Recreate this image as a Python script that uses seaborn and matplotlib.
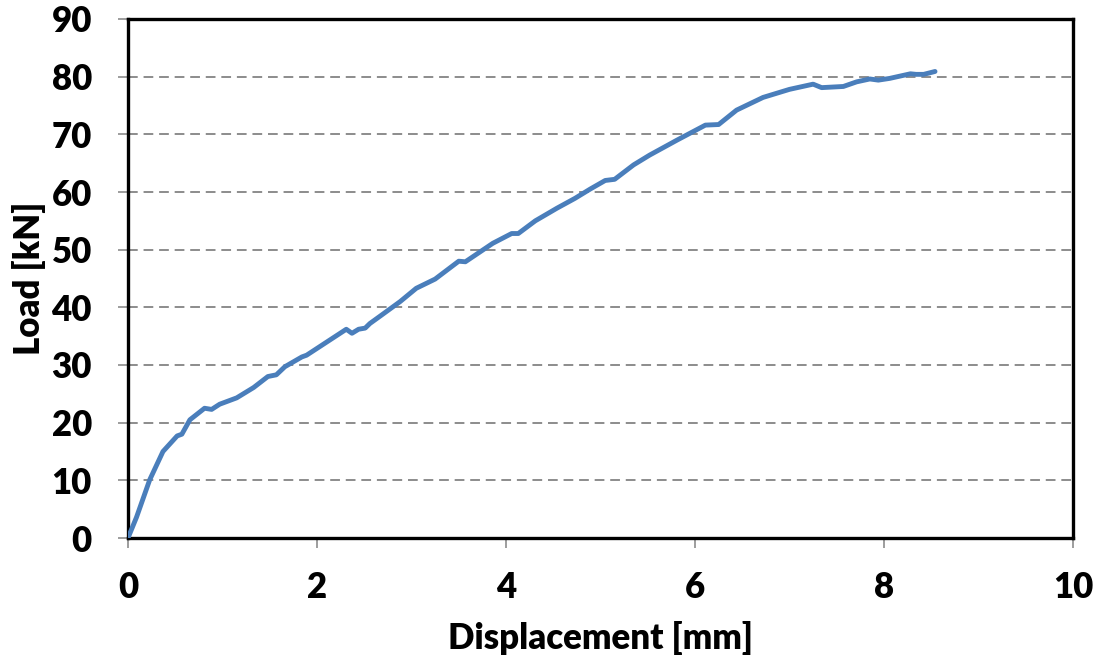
import matplotlib
matplotlib.use("Agg")
import matplotlib.pyplot as plt
import seaborn as sns
import pandas as pd

displacement_mm = [0.0, 0.09, 0.23, 0.37, 0.52, 0.57, 0.655, 0.81, 0.885, 0.97, 1.15, 1.33,
                   1.48, 1.57, 1.66, 1.84, 1.89, 2.31, 2.37, 2.44, 2.51, 2.56, 2.67, 2.88,
                   3.05, 3.25, 3.50, 3.57, 3.86, 4.06, 4.13, 4.31, 4.54, 4.73, 4.89, 5.05,
                   5.15, 5.35, 5.52, 5.81, 6.11, 6.25, 6.44, 6.72, 7.00, 7.25, 7.34, 7.57,
                   7.71, 7.85, 7.94, 8.06, 8.28, 8.34, 8.42, 8.54]
load_kN = [0.0, 3.6, 10.1, 15.0, 17.7, 18.0, 20.5, 22.5, 22.3, 23.2, 24.3, 26.1,
           28.0, 28.3, 29.7, 31.4, 31.7, 36.2, 35.5, 36.2, 36.4, 37.2, 38.5, 41.0,
           43.3, 44.9, 48.0, 47.9, 51.1, 52.8, 52.8, 55.0, 57.2, 58.9, 60.5, 62.0,
           62.2, 64.7, 66.4, 69.0, 71.6, 71.7, 74.2, 76.4, 77.8, 78.7, 78.1, 78.3,
           79.1, 79.6, 79.4, 79.7, 80.5, 80.4, 80.4, 80.9]
x_ticks = [0, 2, 4, 6, 8, 10]
y_ticks = [0, 10, 20, 30, 40, 50, 60, 70, 80, 90]

sns.set_theme(style="white")
plt.rcParams['font.family'] = ['Lato', 'DejaVu Sans']
plt.rcParams['text.color'] = 'black'
plt.rcParams['axes.labelcolor'] = 'black'
plt.rcParams['xtick.color'] = 'black'
plt.rcParams['ytick.color'] = 'black'

df = pd.DataFrame({"Displacement [mm]": displacement_mm, "Load [kN]": load_kN})

fig = plt.figure(figsize=(10.99, 6.59), dpi=100)
ax = fig.add_axes([128/1099, 1 - 538/659, (1073-128)/1099, (538-19)/659])

for yv in y_ticks[1:-1]:
    ax.axhline(yv, color="#8c8c8c", lw=1.4, ls=(0, (5, 3)), zorder=1)

sns.lineplot(data=df, x="Displacement [mm]", y="Load [kN]", ax=ax, color="#4a7ebb",
             lw=3.5, sort=False, estimator=None, zorder=3,
             solid_joinstyle="round", solid_capstyle="round")

ax.set_xlim(0, 10)
ax.set_ylim(0, 90)
ax.set_xticks(x_ticks)
ax.set_yticks(y_ticks)
fs = 25
ax.set_xticklabels([str(t) for t in x_ticks], fontsize=fs, fontweight="heavy")
ax.set_yticklabels([str(t) for t in y_ticks], fontsize=fs, fontweight="heavy")
ax.tick_params(axis="both", direction="out", length=7, width=1.2, color="#8c8c8c",
               labelcolor="black", bottom=True, left=True)
ax.tick_params(axis="y", pad=19)
ax.tick_params(axis="x", pad=17)
for s in ax.spines.values():
    s.set_visible(True)
    s.set_color("black")
    s.set_linewidth(2.4)
ax.set_xlabel("Displacement [mm]", fontsize=fs, fontweight="heavy", labelpad=12, color="black")
ax.set_ylabel("Load [kN]", fontsize=fs, fontweight="heavy", labelpad=4, color="black")

fig.savefig("out.png", dpi=100)
